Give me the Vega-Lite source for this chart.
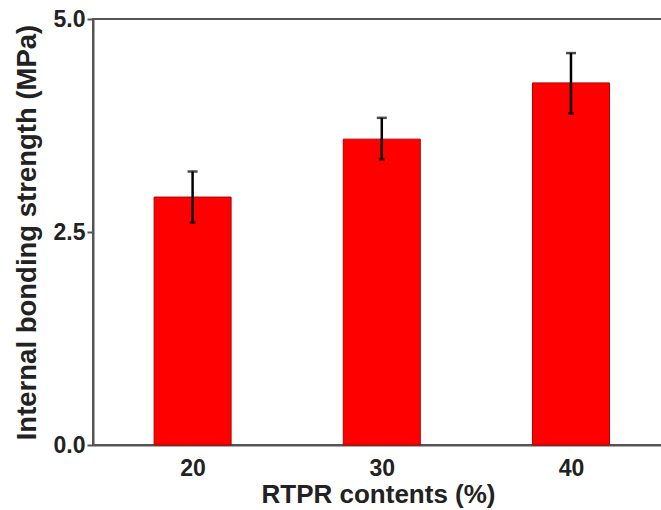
{
  "$schema": "https://vega.github.io/schema/vega-lite/v6.json",
  "width": 570,
  "height": 426,
  "autosize": "none",
  "padding": {"left": 93, "top": 19, "right": 0, "bottom": 65},
  "background": "white",
  "config": {
    "view": {"stroke": "#555555", "strokeWidth": 2},
    "axis": {
      "labelFont": "Liberation Sans",
      "titleFont": "Liberation Sans",
      "labelFontWeight": "bold",
      "titleFontWeight": "bold",
      "labelColor": "#222222",
      "titleColor": "#222222",
      "domainColor": "#555555",
      "domainWidth": 2,
      "tickColor": "#555555",
      "tickWidth": 2,
      "grid": false
    }
  },
  "data": {
    "values": [
      {"content": 20, "mean": 2.91, "lo": 2.61, "hi": 3.21},
      {"content": 30, "mean": 3.59, "lo": 3.35, "hi": 3.84},
      {"content": 40, "mean": 4.25, "lo": 3.89, "hi": 4.6}
    ]
  },
  "encoding": {
    "x": {
      "field": "content",
      "type": "quantitative",
      "scale": {"domain": [15, 44.6], "nice": false, "zero": false},
      "axis": {
        "values": [20, 30, 40],
        "ticks": false,
        "labelFontSize": 23,
        "labelPadding": 12,
        "title": "RTPR contents (%)",
        "titleFontSize": 26,
        "titlePadding": 1
      }
    }
  },
  "layer": [
    {
      "mark": {"type": "bar", "width": 77, "color": "#ff0000", "stroke": "#b00000", "strokeWidth": 1},
      "encoding": {
        "y": {
          "field": "mean",
          "type": "quantitative",
          "scale": {"domain": [0, 5], "nice": false},
          "axis": {
            "values": [0, 2.5, 5],
            "format": ".1f",
            "tickSize": 6,
            "labelFontSize": 23,
            "labelPadding": 2,
            "title": "Internal bonding strength (MPa)",
            "titleFontSize": 27.5,
            "titlePadding": 12
          }
        }
      }
    },
    {
      "mark": {"type": "rule", "color": "black", "strokeWidth": 2.5},
      "encoding": {
        "y": {"field": "lo", "type": "quantitative"},
        "y2": {"field": "hi"}
      }
    },
    {
      "mark": {"type": "tick", "orient": "horizontal", "size": 10, "thickness": 2.5, "color": "black"},
      "encoding": {
        "y": {"field": "hi", "type": "quantitative"}
      }
    },
    {
      "mark": {"type": "tick", "orient": "horizontal", "size": 6, "thickness": 2.5, "color": "black"},
      "encoding": {
        "y": {"field": "lo", "type": "quantitative"}
      }
    }
  ]
}
